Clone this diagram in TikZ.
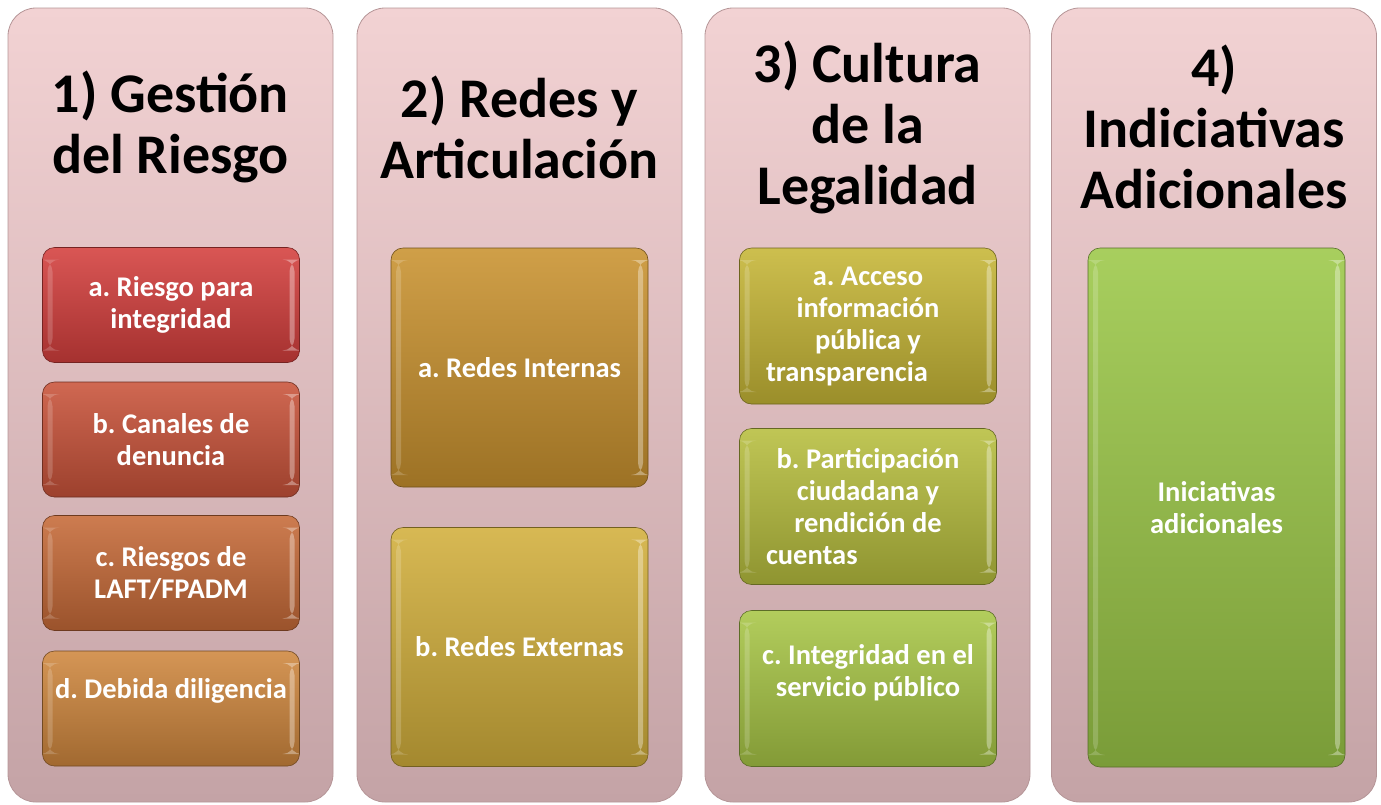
\documentclass[tikz,border=0pt]{standalone}
\usepackage{fontspec}
\setmainfont{Carlito}
\usepackage{xcolor}
\usetikzlibrary{positioning,calc}
\frenchspacing
\definecolor{panelTop}{HTML}{F2D2D3}
\definecolor{panelBot}{HTML}{C4A3A6}
\definecolor{panelEdge}{HTML}{B59597}
\definecolor{rojoA}{HTML}{D43F3D}
\definecolor{rojoB}{HTML}{C9533A}
\definecolor{naranjaC}{HTML}{C66A38}
\definecolor{naranjaD}{HTML}{CF873E}
\definecolor{oroA}{HTML}{C9922F}
\definecolor{oroB}{HTML}{D2AF3C}
\definecolor{olivaA}{HTML}{C6B636}
\definecolor{olivaB}{HTML}{B7BE3E}
\definecolor{olivaC}{HTML}{A8C646}
\definecolor{verdeD}{HTML}{9CC848}
\tikzset{
    % La columna de fondo (rosa)
    panel/.style={
        rounded corners=28pt,
        top color=panelTop, bottom color=panelBot,
        draw=panelEdge, line width=0.8pt,
        minimum width=325pt, minimum height=794pt,
        inner sep=0pt
    },
    % Los titulos de cada columna
    titulo/.style={
        font=\fontsize{56}{61}\selectfont\bfseries,
        align=center, text=black
    },
    % Las casillas con relieve
    casilla/.style={
        rounded corners=12pt,
        draw=#1!55!black, line width=0.6pt,
        top color=#1!88!white, bottom color=#1!78!black,
        minimum width=257pt, inner sep=0pt,
        font=\fontsize{28.5}{32}\selectfont\bfseries,
        align=center, text=white,
        path picture={
            \fill[white,opacity=0.35] ([xshift=-10pt,yshift=-12pt]path picture bounding box.north east)
                rectangle ([xshift=-5pt,yshift=12pt]path picture bounding box.south east);
            \fill[white,opacity=0.18] ([xshift=5pt,yshift=-12pt]path picture bounding box.north west)
                rectangle ([xshift=10pt,yshift=12pt]path picture bounding box.south west);
        }
    },
    rotulo/.style={
        font=\fontsize{28.5}{32}\selectfont\bfseries,
        align=center, text=white
    }
}
\begin{document}
\begin{tikzpicture}[x=1pt,y=-1pt]
    \useasboundingbox (0,0) rectangle (1381,804);

    % --- 1. Columnas de fondo ---
    \node[panel] (p1) at (170.5,405) {};
    \node[panel] (p2) at (519.5,405) {};
    \node[panel] (p3) at (867.5,405) {};
    \node[panel] (p4) at (1214,405) {};

    % --- 2. Titulos ---
    \node[titulo] (t1) at (170.5,127) {1) Gesti\'on\\del Riesgo};
    \node[titulo] (t2) at (519.5,127) {2) Redes y\\Articulaci\'on};
    \node[titulo] (t3) at (867.5,127) {3) Cultura\\de la\\Legalidad};
    \node[titulo] (t4) at (1214,127) {4)\\Indiciativas\\Adicionales};

    % --- 3. Gestion del riesgo ---
    \node[casilla=rojoA, minimum height=115pt] (g1) at (171,305) {a. Riesgo para\\integridad};
    \node[casilla=rojoB, minimum height=115pt] (g2) at (171,439.5) {b. Canales de\\denuncia};
    \node[casilla=naranjaC, minimum height=115pt] (g3) at (171,573) {c. Riesgos de\\LAFT/FPADM};
    \node[casilla=naranjaD, minimum height=115pt] (g4) at (171,708.5) {};
    \node[rotulo] (g4t) at ($(g4.center)+(0,-18)$) {d. Debida diligencia};

    % --- 4. Redes ---
    \node[casilla=oroA, minimum height=239pt] (r1) at (519.5,367.5) {a. Redes Internas};
    \node[casilla=oroB, minimum height=239pt] (r2) at (519.5,647) {b. Redes Externas};

    % --- 5. Cultura de la legalidad ---
    \node[casilla=olivaA, minimum height=156pt] (c1) at (868,326)
        {a. Acceso\\informaci\'on\\p\'ublica y\\\makebox[204pt][l]{transparencia}};
    \node[casilla=olivaB, minimum height=156pt] (c2) at (868,506.5)
        {b. Participaci\'on\\ciudadana y\\rendici\'on de\\\makebox[204pt][l]{cuentas}};
    \node[casilla=olivaC, minimum height=156pt] (c3) at (868,688.5) {};
    \node[rotulo] (c3t) at ($(c3.center)+(0,-16)$) {c. Integridad en el\\servicio p\'ublico};

    % --- 6. Iniciativas adicionales ---
    \node[casilla=verdeD, minimum height=519pt] (i1) at (1216.5,507.5) {Iniciativas\\adicionales};
\end{tikzpicture}
\end{document}
